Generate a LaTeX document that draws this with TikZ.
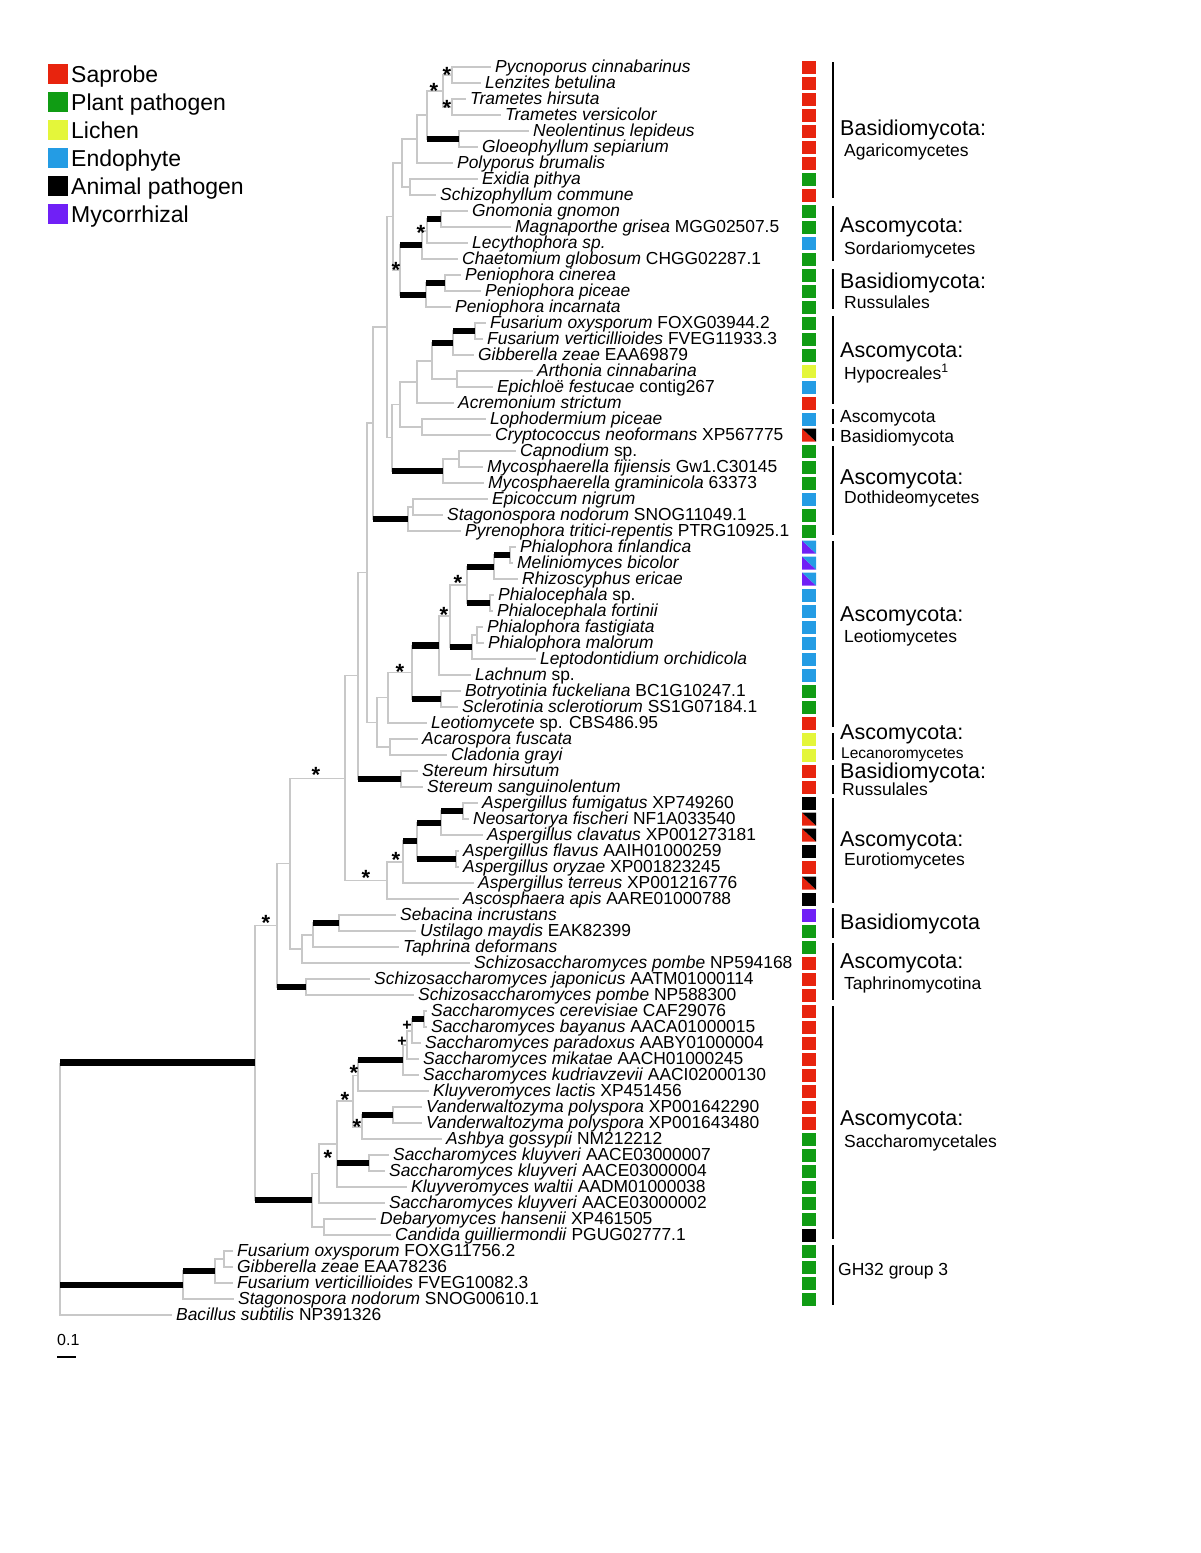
\documentclass[tikz,border=0pt]{standalone}
\usepackage{fontspec}
\setmainfont{Liberation Sans}
\definecolor{sap}{RGB}{232,36,14}
\definecolor{ppath}{RGB}{16,156,20}
\definecolor{lich}{RGB}{228,246,58}
\definecolor{endo}{RGB}{36,156,228}
\definecolor{myco}{RGB}{112,32,246}
\definecolor{brgray}{RGB}{200,200,200}

\begin{document}
\begin{tikzpicture}[x=1pt,y=-1pt,
  br/.style={draw=brgray,line width=1.3pt},
  bar/.style={line width=6.5pt},
  leaf/.style={anchor=west,inner xsep=4pt,inner ysep=0pt,text height=10pt,text depth=0pt,font=\fontsize{17.4}{18}\selectfont},
  supp/.style={inner sep=0pt,font=\fontsize{22}{22}\selectfont\bfseries},
  plus/.style={inner sep=0pt,font=\fontsize{16}{16}\selectfont\bfseries},
  big/.style={anchor=west,inner sep=0pt,text height=15.5pt,text depth=0pt,font=\fontsize{21.5}{22}\selectfont},
  sub/.style={anchor=west,inner sep=0pt,text height=12.5pt,text depth=0pt,font=\fontsize{17.5}{18}\selectfont},
  key/.style={anchor=west,inner sep=0pt,text height=16.5pt,text depth=0pt,font=\fontsize{23}{24}\selectfont},
  grp/.style={line width=2pt}]
\useasboundingbox (0,0) rectangle (1200,1553);

% legend
\fill[sap] (48,64) rectangle +(20,20);
\fill[ppath] (48,92) rectangle +(20,20);
\fill[lich] (48,120) rectangle +(20,20);
\fill[endo] (48,148) rectangle +(20,20);
\fill[black] (48,176) rectangle +(20,20);
\fill[myco] (48,204) rectangle +(20,20);
\node[key] (ksap) at (71,74) {Saprobe};
\node[key] (kpp) at (71,102) {Plant pathogen};
\node[key] (klic) at (71,130) {Lichen};
\node[key] (kend) at (71,158) {Endophyte};
\node[key] (kap) at (71,186) {Animal pathogen};
\node[key] (kmyc) at (71,214) {Mycorrhizal};

% leaves
\node[leaf] (l1) at (491,67) {\textit{Pycnoporus cinnabarinus}};
\node[leaf] (l2) at (481,83) {\textit{Lenzites betulina}};
\node[leaf] (l3) at (466,99) {\textit{Trametes hirsuta}};
\node[leaf] (l4) at (501,115) {\textit{Trametes versicolor}};
\node[leaf] (l5) at (529,131) {\textit{Neolentinus lepideus}};
\node[leaf] (l6) at (478,147) {\textit{Gloeophyllum sepiarium}};
\node[leaf] (l7) at (453,163) {\textit{Polyporus brumalis}};
\node[leaf] (l8) at (478,179) {\textit{Exidia pithya}};
\node[leaf] (l9) at (436,195) {\textit{Schizophyllum commune}};
\node[leaf] (l10) at (468,211) {\textit{Gnomonia gnomon}};
\node[leaf] (l11) at (511,227) {\textit{Magnaporthe grisea} MGG02507.5};
\node[leaf] (l12) at (468,243) {\textit{Lecythophora sp.}};
\node[leaf] (l13) at (458,259) {\textit{Chaetomium globosum} CHGG02287.1};
\node[leaf] (l14) at (461,275) {\textit{Peniophora cinerea}};
\node[leaf] (l15) at (481,291) {\textit{Peniophora piceae}};
\node[leaf] (l16) at (451,307) {\textit{Peniophora incarnata}};
\node[leaf] (l17) at (486,323) {\textit{Fusarium oxysporum} FOXG03944.2};
\node[leaf] (l18) at (483,339) {\textit{Fusarium verticillioides} FVEG11933.3};
\node[leaf] (l19) at (474,355) {\textit{Gibberella zeae} EAA69879};
\node[leaf] (l20) at (533,371) {\textit{Arthonia cinnabarina}};
\node[leaf] (l21) at (493,387) {\textit{Epichloë festucae} contig267};
\node[leaf] (l22) at (454,403) {\textit{Acremonium strictum}};
\node[leaf] (l23) at (486,419) {\textit{Lophodermium piceae}};
\node[leaf] (l24) at (491,435) {\textit{Cryptococcus neoformans} XP567775};
\node[leaf] (l25) at (516,451) {\textit{Capnodium} sp.};
\node[leaf] (l26) at (483,467) {\textit{Mycosphaerella fijiensis} Gw1.C30145};
\node[leaf] (l27) at (484,483) {\textit{Mycosphaerella graminicola} 63373};
\node[leaf] (l28) at (488,499) {\textit{Epicoccum nigrum}};
\node[leaf] (l29) at (443,515) {\textit{Stagonospora nodorum} SNOG11049.1};
\node[leaf] (l30) at (461,531) {\textit{Pyrenophora tritici-repentis} PTRG10925.1};
\node[leaf] (l31) at (516,547) {\textit{Phialophora finlandica}};
\node[leaf] (l32) at (513,563) {\textit{Meliniomyces bicolor}};
\node[leaf] (l33) at (518,579) {\textit{Rhizoscyphus ericae}};
\node[leaf] (l34) at (494,595) {\textit{Phialocephala} sp.};
\node[leaf] (l35) at (493,611) {\textit{Phialocephala fortinii}};
\node[leaf] (l36) at (483,627) {\textit{Phialophora fastigiata}};
\node[leaf] (l37) at (484,643) {\textit{Phialophora malorum}};
\node[leaf] (l38) at (536,659) {\textit{Leptodontidium orchidicola}};
\node[leaf] (l39) at (471,675) {\textit{Lachnum} sp.};
\node[leaf] (l40) at (461,691) {\textit{Botryotinia fuckeliana} BC1G10247.1};
\node[leaf] (l41) at (458,707) {\textit{Sclerotinia sclerotiorum} SS1G07184.1};
\node[leaf] (l42) at (427,723) {\textit{Leotiomycete} sp. CBS486.95};
\node[leaf] (l43) at (418,739) {\textit{Acarospora fuscata}};
\node[leaf] (l44) at (447,755) {\textit{Cladonia grayi}};
\node[leaf] (l45) at (418,771) {\textit{Stereum hirsutum}};
\node[leaf] (l46) at (423,787) {\textit{Stereum sanguinolentum}};
\node[leaf] (l47) at (478,803) {\textit{Aspergillus fumigatus} XP749260};
\node[leaf] (l48) at (469,819) {\textit{Neosartorya fischeri} NF1A033540};
\node[leaf] (l49) at (483,835) {\textit{Aspergillus clavatus} XP001273181};
\node[leaf] (l50) at (459,851) {\textit{Aspergillus flavus} AAIH01000259};
\node[leaf] (l51) at (459,867) {\textit{Aspergillus oryzae} XP001823245};
\node[leaf] (l52) at (474,883) {\textit{Aspergillus terreus} XP001216776};
\node[leaf] (l53) at (459,899) {\textit{Ascosphaera apis} AARE01000788};
\node[leaf] (l54) at (396,915) {\textit{Sebacina incrustans}};
\node[leaf] (l55) at (416,931) {\textit{Ustilago maydis} EAK82399};
\node[leaf] (l56) at (399,947) {\textit{Taphrina deformans}};
\node[leaf] (l57) at (470,963) {\textit{Schizosaccharomyces pombe} NP594168};
\node[leaf] (l58) at (370,979) {\textit{Schizosaccharomyces japonicus} AATM01000114};
\node[leaf] (l59) at (414,995) {\textit{Schizosaccharomyces pombe} NP588300};
\node[leaf] (l60) at (427,1011) {\textit{Saccharomyces cerevisiae} CAF29076};
\node[leaf] (l61) at (427,1027) {\textit{Saccharomyces bayanus} AACA01000015};
\node[leaf] (l62) at (421,1043) {\textit{Saccharomyces paradoxus} AABY01000004};
\node[leaf] (l63) at (419,1059) {\textit{Saccharomyces mikatae} AACH01000245};
\node[leaf] (l64) at (419,1075) {\textit{Saccharomyces kudriavzevii} AACI02000130};
\node[leaf] (l65) at (429,1091) {\textit{Kluyveromyces lactis} XP451456};
\node[leaf] (l66) at (422,1107) {\textit{Vanderwaltozyma polyspora} XP001642290};
\node[leaf] (l67) at (422,1123) {\textit{Vanderwaltozyma polyspora} XP001643480};
\node[leaf] (l68) at (442,1139) {\textit{Ashbya gossypii} NM212212};
\node[leaf] (l69) at (389,1155) {\textit{Saccharomyces kluyveri} AACE03000007};
\node[leaf] (l70) at (385,1171) {\textit{Saccharomyces kluyveri} AACE03000004};
\node[leaf] (l71) at (407,1187) {\textit{Kluyveromyces waltii} AADM01000038};
\node[leaf] (l72) at (385,1203) {\textit{Saccharomyces kluyveri} AACE03000002};
\node[leaf] (l73) at (376,1219) {\textit{Debaryomyces hansenii} XP461505};
\node[leaf] (l74) at (391,1235) {\textit{Candida guilliermondii} PGUG02777.1};
\node[leaf] (l75) at (233,1251) {\textit{Fusarium oxysporum} FOXG11756.2};
\node[leaf] (l76) at (233,1267) {\textit{Gibberella zeae} EAA78236};
\node[leaf] (l77) at (233,1283) {\textit{Fusarium verticillioides} FVEG10082.3};
\node[leaf] (l78) at (234,1299) {\textit{Stagonospora nodorum} SNOG00610.1};
\node[leaf] (l79) at (172,1315) {\textit{Bacillus subtilis} NP391326};

% inner nodes
\coordinate (pyc) at (452,75);
\coordinate (tram) at (452,107);
\coordinate (agar3) at (443,91);
\coordinate (gloe) at (459,139);
\coordinate (agar2) at (427,115);
\coordinate (agar1) at (417,139);
\coordinate (exi) at (410,187);
\coordinate (agar) at (402,163);
\coordinate (sord2) at (441,219);
\coordinate (sord1) at (427,231);
\coordinate (sord) at (422,245);
\coordinate (pen1) at (445,283);
\coordinate (pen) at (426,295);
\coordinate (asc1) at (400,270);
\coordinate (dik1) at (393,216.5);
\coordinate (fus) at (475,331);
\coordinate (hyp3) at (453,343);
\coordinate (arth) at (457,379);
\coordinate (hyp2) at (432,361);
\coordinate (hyp1) at (417,382);
\coordinate (crypt) at (422,427);
\coordinate (hyp) at (400,404.5);
\coordinate (doth4) at (459,459);
\coordinate (doth1) at (443,471);
\coordinate (asc2) at (392,437.8);
\coordinate (asc3) at (387,327.1);
\coordinate (doth3) at (413,507);
\coordinate (doth2) at (408,519);
\coordinate (asc4) at (373,423);
\coordinate (leo7) at (510,555);
\coordinate (leo6) at (494,567);
\coordinate (phc) at (490,603);
\coordinate (leo4) at (467,585);
\coordinate (leo8) at (477,635);
\coordinate (leo5) at (472,647);
\coordinate (leo3) at (450,616);
\coordinate (leo2) at (439,645.5);
\coordinate (scl) at (441,699);
\coordinate (leo1) at (412,672.2);
\coordinate (leo0) at (388,697.6);
\coordinate (lec) at (390,747);
\coordinate (asc6) at (377,722.3);
\coordinate (asc5) at (367,572.7);
\coordinate (ster) at (401,779);
\coordinate (asc7) at (358,675.8);
\coordinate (eu5) at (463,811);
\coordinate (eu3) at (441,823);
\coordinate (eu4) at (456,859);
\coordinate (eu2) at (417,841);
\coordinate (eu1) at (403,862);
\coordinate (euro) at (387,880.5);
\coordinate (asc8) at (345,778.2);
\coordinate (ust) at (339,923);
\coordinate (basi) at (313,935);
\coordinate (taph) at (302,949);
\coordinate (asc9) at (290,863.6);
\coordinate (schz) at (306,987);
\coordinate (asc10) at (277,925.3);
\coordinate (sc1) at (424,1019);
\coordinate (sc2) at (412,1031);
\coordinate (sc3) at (407,1045);
\coordinate (sc4) at (403,1060);
\coordinate (sc5) at (358,1075.5);
\coordinate (vand) at (393,1115);
\coordinate (sc6) at (362,1127);
\coordinate (sc7) at (353,1101);
\coordinate (kl) at (369,1163);
\coordinate (sc8) at (337,1144);
\coordinate (sc9) at (319,1173.5);
\coordinate (deb) at (324,1227);
\coordinate (sacc) at (312,1200);
\coordinate (fung) at (255,1062.7);
\coordinate (g1) at (224,1259);
\coordinate (g2) at (215,1271);
\coordinate (gh) at (183,1285);
\coordinate (root) at (60,1062.7);

% branches
\draw[br] (root) |- (fung) (root) |- (gh) (root) |- (l79.west);
\draw[br] (fung) |- (asc10) (fung) |- (sacc);
\draw[br] (asc10) |- (asc9) (asc10) |- (schz);
\draw[br] (schz) |- (l58.west) (schz) |- (l59.west);
\draw[br] (asc9) |- (asc8) (asc9) |- (taph);
\draw[br] (taph) |- (basi) (taph) |- (l57.west);
\draw[br] (basi) |- (ust) (basi) |- (l56.west);
\draw[br] (ust) |- (l54.west) (ust) |- (l55.west);
\draw[br] (asc8) |- (asc7) (asc8) |- (euro);
\draw[br] (euro) |- (eu1) (euro) |- (l53.west);
\draw[br] (eu1) |- (eu2) (eu1) |- (l52.west);
\draw[br] (eu2) |- (eu3) (eu2) |- (eu4);
\draw[br] (eu3) |- (eu5) (eu3) |- (l49.west);
\draw[br] (eu5) |- (l47.west) (eu5) |- (l48.west);
\draw[br] (eu4) |- (l50.west) (eu4) |- (l51.west);
\draw[br] (asc7) |- (asc5) (asc7) |- (ster);
\draw[br] (ster) |- (l45.west) (ster) |- (l46.west);
\draw[br] (asc5) |- (asc4) (asc5) |- (asc6);
\draw[br] (asc6) |- (leo0) (asc6) |- (lec);
\draw[br] (lec) |- (l43.west) (lec) |- (l44.west);
\draw[br] (leo0) |- (leo1) (leo0) |- (l42.west);
\draw[br] (leo1) |- (leo2) (leo1) |- (scl);
\draw[br] (scl) |- (l40.west) (scl) |- (l41.west);
\draw[br] (leo2) |- (leo3) (leo2) |- (l39.west);
\draw[br] (leo3) |- (leo4) (leo3) |- (leo5);
\draw[br] (leo4) |- (leo6) (leo4) |- (phc);
\draw[br] (leo6) |- (leo7) (leo6) |- (l33.west);
\draw[br] (leo7) |- (l31.west) (leo7) |- (l32.west);
\draw[br] (phc) |- (l34.west) (phc) |- (l35.west);
\draw[br] (leo5) |- (leo8) (leo5) |- (l38.west);
\draw[br] (leo8) |- (l36.west) (leo8) |- (l37.west);
\draw[br] (asc4) |- (asc3) (asc4) |- (doth2);
\draw[br] (doth2) |- (doth3) (doth2) |- (l30.west);
\draw[br] (doth3) |- (l28.west) (doth3) |- (l29.west);
\draw[br] (asc3) |- (dik1) (asc3) |- (asc2);
\draw[br] (asc2) |- (hyp) (asc2) |- (doth1);
\draw[br] (doth1) |- (doth4) (doth1) |- (l27.west);
\draw[br] (doth4) |- (l25.west) (doth4) |- (l26.west);
\draw[br] (hyp) |- (hyp1) (hyp) |- (crypt);
\draw[br] (crypt) |- (l23.west) (crypt) |- (l24.west);
\draw[br] (hyp1) |- (hyp2) (hyp1) |- (l22.west);
\draw[br] (hyp2) |- (hyp3) (hyp2) |- (arth);
\draw[br] (hyp3) |- (fus) (hyp3) |- (l19.west);
\draw[br] (fus) |- (l17.west) (fus) |- (l18.west);
\draw[br] (arth) |- (l20.west) (arth) |- (l21.west);
\draw[br] (dik1) |- (agar) (dik1) |- (asc1);
\draw[br] (asc1) |- (sord) (asc1) |- (pen);
\draw[br] (pen) |- (pen1) (pen) |- (l16.west);
\draw[br] (pen1) |- (l14.west) (pen1) |- (l15.west);
\draw[br] (sord) |- (sord1) (sord) |- (l13.west);
\draw[br] (sord1) |- (sord2) (sord1) |- (l12.west);
\draw[br] (sord2) |- (l10.west) (sord2) |- (l11.west);
\draw[br] (agar) |- (agar1) (agar) |- (exi);
\draw[br] (exi) |- (l8.west) (exi) |- (l9.west);
\draw[br] (agar1) |- (agar2) (agar1) |- (l7.west);
\draw[br] (agar2) |- (agar3) (agar2) |- (gloe);
\draw[br] (gloe) |- (l5.west) (gloe) |- (l6.west);
\draw[br] (agar3) |- (pyc) (agar3) |- (tram);
\draw[br] (pyc) |- (l1.west) (pyc) |- (l2.west);
\draw[br] (tram) |- (l3.west) (tram) |- (l4.west);
\draw[br] (sacc) |- (sc9) (sacc) |- (deb);
\draw[br] (deb) |- (l73.west) (deb) |- (l74.west);
\draw[br] (sc9) |- (sc8) (sc9) |- (l72.west);
\draw[br] (sc8) |- (sc7) (sc8) |- (kl) (sc8) |- (l71.west);
\draw[br] (kl) |- (l69.west) (kl) |- (l70.west);
\draw[br] (sc7) |- (sc5) (sc7) |- (sc6);
\draw[br] (sc6) |- (vand) (sc6) |- (l68.west);
\draw[br] (vand) |- (l66.west) (vand) |- (l67.west);
\draw[br] (sc5) |- (sc4) (sc5) |- (l65.west);
\draw[br] (sc4) |- (sc3) (sc4) |- (l64.west);
\draw[br] (sc3) |- (sc2) (sc3) |- (l63.west);
\draw[br] (sc2) |- (sc1) (sc2) |- (l62.west);
\draw[br] (sc1) |- (l60.west) (sc1) |- (l61.west);
\draw[br] (gh) |- (g2) (gh) |- (l78.west);
\draw[br] (g2) |- (g1) (g2) |- (l77.west);
\draw[br] (g1) |- (l75.west) (g1) |- (l76.west);

% thick branches
\draw[bar] (root) -- (fung);
\draw[bar] (root |- gh) -- (gh);
\draw[bar] (gh |- g2) -- (g2);
\draw[bar] (fung |- sacc) -- (sacc);
\draw[bar] (asc10 |- schz) -- (schz);
\draw[bar] (basi |- ust) -- (ust);
\draw[bar] (eu1 |- eu2) -- (eu2);
\draw[bar] (eu2 |- eu3) -- (eu3);
\draw[bar] (eu2 |- eu4) -- (eu4);
\draw[bar] (eu3 |- eu5) -- (eu5);
\draw[bar] (asc7 |- ster) -- (ster);
\draw[bar] (leo1 |- leo2) -- (leo2);
\draw[bar] (leo1 |- scl) -- (scl);
\draw[bar] (leo3 |- leo5) -- (leo5);
\draw[bar] (leo4 |- leo6) -- (leo6);
\draw[bar] (leo4 |- phc) -- (phc);
\draw[bar] (leo6 |- leo7) -- (leo7);
\draw[bar] (asc4 |- doth2) -- (doth2);
\draw[bar] (asc2 |- doth1) -- (doth1);
\draw[bar] (hyp2 |- hyp3) -- (hyp3);
\draw[bar] (hyp3 |- fus) -- (fus);
\draw[bar] (asc1 |- sord) -- (sord);
\draw[bar] (asc1 |- pen) -- (pen);
\draw[bar] (pen |- pen1) -- (pen1);
\draw[bar] (sord1 |- sord2) -- (sord2);
\draw[bar] (agar2 |- gloe) -- (gloe);
\draw[bar] (sc8 |- kl) -- (kl);
\draw[bar] (sc6 |- vand) -- (vand);
\draw[bar] (sc5 |- sc4) -- (sc4);
\draw[bar] (sc2 |- sc1) -- (sc1);

% support marks
\node[supp] (s1) at (447,75) {*};
\node[supp] (s2) at (434,91) {*};
\node[supp] (s3) at (447,108) {*};
\node[supp] (s4) at (421,233) {*};
\node[supp] (s5) at (396,270) {*};
\node[supp] (s6) at (458,583) {*};
\node[supp] (s7) at (444,615) {*};
\node[supp] (s8) at (400,672) {*};
\node[supp] (s9) at (316,775) {*};
\node[supp] (s10) at (396,860) {*};
\node[supp] (s11) at (366,878) {*};
\node[supp] (s12) at (266,923) {*};
\node[plus] (s13) at (407,1026) {+};
\node[plus] (s14) at (402,1042) {+};
\node[supp] (s15) at (354,1073) {*};
\node[supp] (s16) at (345,1100) {*};
\node[supp] (s17) at (357,1127) {*};
\node[supp] (s18) at (328,1158) {*};

% life-style squares
\foreach \i/\c in {1/sap,2/sap,3/sap,4/sap,5/sap,6/sap,7/sap,8/ppath,9/sap,10/ppath,
  11/ppath,12/endo,13/ppath,14/ppath,15/ppath,16/ppath,17/ppath,18/ppath,19/ppath,20/lich,
  21/endo,22/sap,23/endo,25/ppath,26/ppath,27/ppath,28/endo,29/ppath,30/ppath,
  34/endo,35/endo,36/endo,37/endo,38/endo,39/endo,40/ppath,41/ppath,42/sap,43/lich,
  44/lich,45/sap,46/sap,47/black,50/black,51/sap,53/black,54/myco,55/ppath,56/ppath,
  57/sap,58/sap,59/sap,60/sap,61/sap,62/sap,63/sap,64/sap,65/sap,66/sap,67/sap,
  68/ppath,69/ppath,70/ppath,71/ppath,72/ppath,73/ppath,74/black,75/ppath,76/ppath,
  77/ppath,78/ppath}
  \fill[\c] (802,16*\i+44.5) rectangle +(14,13);
\foreach \i in {24,48,49,52} {
  \fill[sap] (802,16*\i+44.5) -- ++(0,13) -- ++(14,0) -- cycle;
  \fill[black] (802,16*\i+44.5) -- ++(14,0) -- ++(0,13) -- cycle;
}
\foreach \i in {31,32,33} {
  \fill[myco] (802,16*\i+44.5) -- ++(0,13) -- ++(14,0) -- cycle;
  \fill[endo] (802,16*\i+44.5) -- ++(14,0) -- ++(0,13) -- cycle;
}

% groups
\draw[grp] (833,62) -- (833,198);
\draw[grp] (833,206) -- (833,261);
\draw[grp] (833,269) -- (833,309);
\draw[grp] (833,316) -- (833,404);
\draw[grp] (833,409) -- (833,424);
\draw[grp] (833,428) -- (833,441);
\draw[grp] (833,446) -- (833,535);
\draw[grp] (833,541) -- (833,727);
\draw[grp] (833,733) -- (833,760);
\draw[grp] (833,765) -- (833,794);
\draw[grp] (833,798) -- (833,903);
\draw[grp] (833,908) -- (833,938);
\draw[grp] (833,943) -- (833,1000);
\draw[grp] (833,1006) -- (833,1239);
\draw[grp] (833,1245) -- (833,1305);

\node[big] (c1) at (840,128) {Basidiomycota:};
\node[sub] (c1s) at (844,150) {Agaricomycetes};
\node[big] (c2) at (840,225) {Ascomycota:};
\node[sub] (c2s) at (844,248) {Sordariomycetes};
\node[big] (c3) at (840,281) {Basidiomycota:};
\node[sub] (c3s) at (844,302) {Russulales};
\node[big] (c4) at (840,350) {Ascomycota:};
\node[sub] (c4s) at (844,373) {Hypocreales\textsuperscript{1}};
\node[sub] (c5) at (840,416) {Ascomycota};
\node[sub] (c6) at (840,436) {Basidiomycota};
\node[big] (c7) at (840,477) {Ascomycota:};
\node[sub] (c7s) at (844,497) {Dothideomycetes};
\node[big] (c8) at (840,614) {Ascomycota:};
\node[sub] (c8s) at (844,636) {Leotiomycetes};
\node[big] (c9) at (840,732) {Ascomycota:};
\node[sub,font=\fontsize{15.5}{16}\selectfont] (c9s) at (841,752) {Lecanoromycetes};
\node[big] (c10) at (840,771) {Basidiomycota:};
\node[sub] (c10s) at (842,789) {Russulales};
\node[big] (c11) at (840,839) {Ascomycota:};
\node[sub] (c11s) at (844,859) {Eurotiomycetes};
\node[big] (c12) at (840,922) {Basidiomycota};
\node[big] (c13) at (840,961) {Ascomycota:};
\node[sub] (c13s) at (844,983) {Taphrinomycotina};
\node[big] (c14) at (840,1118) {Ascomycota:};
\node[sub] (c14s) at (844,1141) {Saccharomycetales};
\node[sub] (c15) at (838,1269) {GH32 group 3};

% scale
\draw[line width=2pt] (57,1357) -- (76,1357);
\node[sub,font=\fontsize{16}{16}\selectfont] (sc) at (57,1339) {0.1};
\end{tikzpicture}
\end{document}
